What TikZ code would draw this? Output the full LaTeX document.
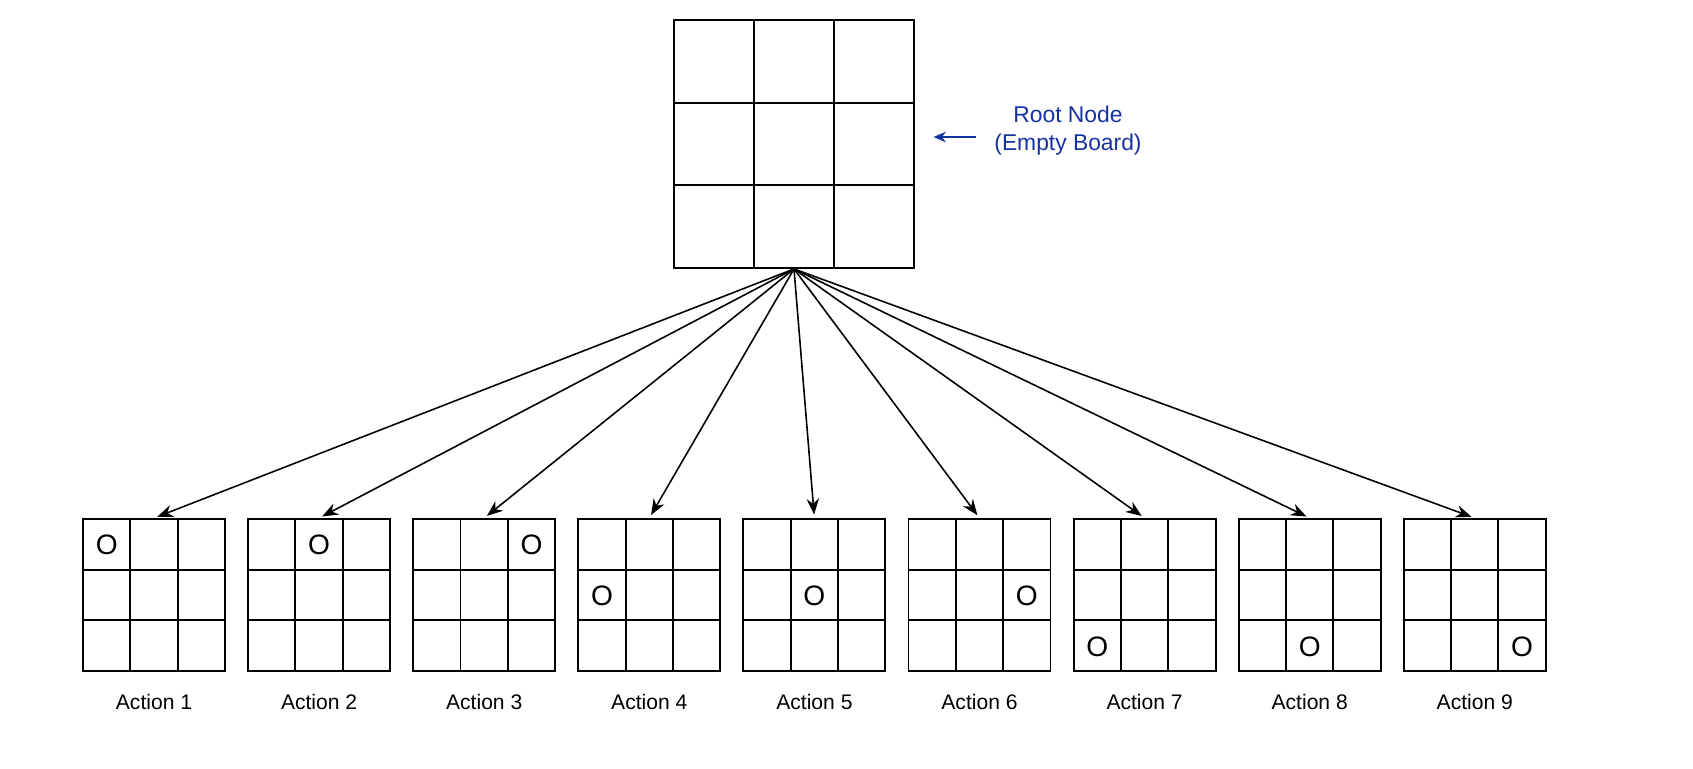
\documentclass[tikz,border=0pt]{standalone}
\usepackage{fontspec}
\setmainfont{Liberation Sans}
\usetikzlibrary{positioning,arrows.meta}
\definecolor{rootblue}{RGB}{20,50,160}
\begin{document}
\begin{tikzpicture}[x=0.02cm, y=-0.02cm, line width=1.1pt,
  board/.style={draw, minimum width=2.84cm, minimum height=3.04cm, inner sep=0pt},
  omark/.style={font=\fontsize{16}{18}\selectfont},
  act/.style={font=\fontsize{12}{14}\selectfont},
  link/.style={-{Stealth[length=9pt,width=7pt]}, line width=0.9pt, shorten >=2pt}]
  \useasboundingbox (0,0) rectangle (1693,768);

  % Root board
  \node[draw, minimum width=4.8cm, minimum height=4.96cm, inner sep=0pt] (root) at (794,144) {};
  \foreach \i in {1,2} {
    \draw (674+80*\i,20) -- (674+80*\i,268);
    \draw (674,20+82.7*\i) -- (914,20+82.7*\i);
  }
  \node[text=rootblue, align=center, font=\fontsize{13}{16}\selectfont] (rootlbl) at (1068,131) {Root Node\\(Empty Board)};
  \draw[-{Stealth[length=7pt,width=6pt]}, rootblue, line width=1pt] (rootlbl.west) ++(-12,6) coordinate (ls) -- ++(-42,0);

  % Children boards
  \foreach \k in {1,...,9} {
    \pgfmathsetmacro{\cx}{154+165.1*(\k-1)}
    \node[board] (c\k) at (\cx,595) {};
    \foreach \i in {1,2} {
      \draw (\cx-71+47.3*\i,519) -- (\cx-71+47.3*\i,671);
      \draw (\cx-71,519+50.7*\i) -- (\cx+71,519+50.7*\i);
    }
    \pgfmathsetmacro{\col}{mod(\k-1,3)}
    \pgfmathsetmacro{\row}{floor((\k-1)/3)}
    \node[omark] (o\k) at (\cx-47.3+47.3*\col,545+50.7*\row) {O};
    \node[act, below=0.3cm of c\k] (a\k) {Action \k};
    \draw[link] (root.south) -- (c\k.north);
  }
\end{tikzpicture}
\end{document}
